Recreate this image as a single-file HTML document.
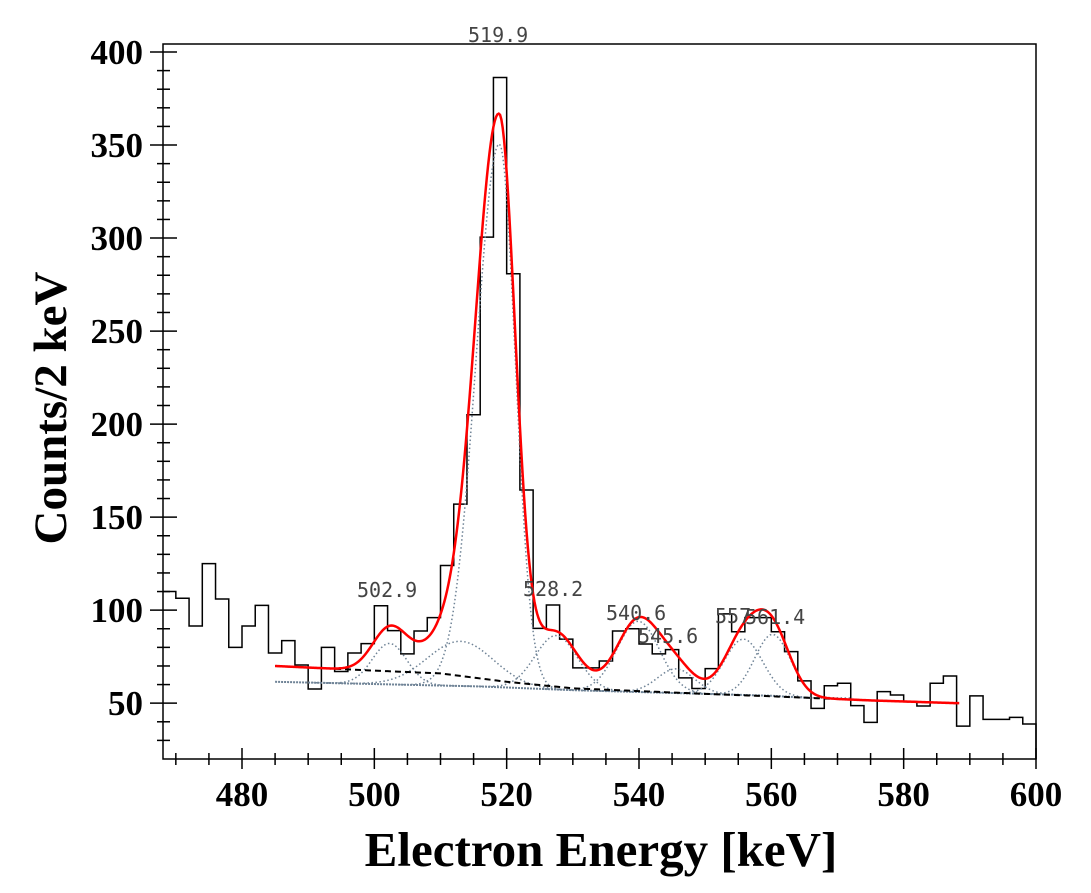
<!DOCTYPE html>
<html><head><meta charset="utf-8"><style>
html,body{margin:0;padding:0;background:#fff;}
svg{display:block;}
.tick{font-family:"Liberation Serif",serif;font-weight:bold;font-size:35px;fill:#000;}
.pl{font-family:"DejaVu Sans Mono","Liberation Mono",monospace;font-size:20px;fill:#444;}
</style></head><body>
<svg id="chart" width="1091" height="893" viewBox="0 0 1091 893" xmlns="http://www.w3.org/2000/svg">
<rect x="0" y="0" width="1091" height="893" fill="#fff"/>
<g id="plot"></g>
</svg>
<script>
const binStart = 468, binWidth = 2;
const counts = [110,106.4,91.5,125,106,80,91.5,102.6,77,83.6,70.5,57.6,80,67,77,82,102.4,89,76.5,88.8,96,124,157,205,300.5,386.3,280.8,164.6,90.2,102.8,84.4,69,69,72.7,88.8,90,81.8,76.5,78.8,63.6,57.9,68.6,98,88.4,96,96,88.4,77.7,62,47.2,59.4,60.7,48.7,39.7,56.2,54.4,50.8,48.5,60.7,64.6,37.7,53.9,41.3,41.3,42.4,38.8];
const xTicks = [480,500,520,540,560,580,600];
const yTicks = [50,100,150,200,250,300,350,400];
const bgX = [485,500,510,520,530,540,550,560,575,588];
const bgY = [70,67.5,66,61.5,58,56.5,55,53.7,51.5,50];
const blueBgX = [485,516,530,545,560,566];
const blueBgY = [61.5,59,57,55.5,54,52.8];
const peakCenters = [502.3,518.9,513,527.5,539.9,545.6,555.8,560.2];
const peakAmps = [22,292,24,29,38,13,30,33];
const peakSigL = [2.6,3.5,5,3.2,3.2,2.8,2.9,2.7];
const peakSigR = [2.6,2.4,5,3.2,3.2,2.8,2.9,2.7];
const peakLabels = ["502.9","519.9","528.2","540.6","545.6","557","561.4"];
const peakLabelX = [357,468,523,606,638,715,745];
const peakLabelY = [597,42,596,620,643,623,624];
const fitRange = [485,588.5];

const X0=468.06, X1=600, Y0=20, Y1=404.3, L=163, R=1036, T=44, B=759;
const sx = v => L + (v-X0)/(X1-X0)*(R-L);
const sy = v => B - (v-Y0)/(Y1-Y0)*(B-T);
const NS='http://www.w3.org/2000/svg';
const g = document.getElementById('plot');
function mk(tag, attrs){const e=document.createElementNS(NS,tag);for(const k in attrs)e.setAttribute(k,attrs[k]);g.appendChild(e);return e;}
function interp(xs,ys,x){if(x<=xs[0])return ys[0];for(let i=1;i<xs.length;i++){if(x<=xs[i]){const t=(x-xs[i-1])/(xs[i]-xs[i-1]);return ys[i-1]+t*(ys[i]-ys[i-1]);}}return ys[ys.length-1];}
function gauss(i,x){const s=x<peakCenters[i]?peakSigL[i]:peakSigR[i];const d=x-peakCenters[i];return peakAmps[i]*Math.exp(-d*d/(2*s*s));}

const fr = mk('rect',{x:L,y:T,width:R-L,height:B-T,fill:'none',stroke:'#000','stroke-width':1.5});



for(let v=470; v<=600; v+=5){
  const major = v%20===0;
  const t = mk('line',{x1:sx(v),x2:sx(v),y1:major?748:753,y2:major?769:765,stroke:'#000','stroke-width':1.5});
  
  
}
xTicks.forEach(v=>{
  const t=mk('text',{x:sx(v),y:806,'text-anchor':'middle',class:'tick'});
  t.textContent=v;
  
  
});
for(let v=30; v<=400; v+=10){
  const major = v%50===0;
  const t = mk('line',{x1:major?150:157,x2:major?177:170,y1:sy(v),y2:sy(v),stroke:'#000','stroke-width':1.5});
  
  
}
yTicks.forEach(v=>{
  const t=mk('text',{x:143,y:sy(v)+12,'text-anchor':'end',class:'tick'});
  t.textContent=v;
  
  
});

let d='';
counts.forEach((c,i)=>{
  const a=binStart+i*binWidth, b=a+binWidth;
  const xa=Math.max(sx(a),L);
  d += (i===0?'M':'L')+xa+','+sy(c)+' L'+sx(b)+','+sy(c)+' ';
});
d+='L'+R+','+B;
const h=mk('path',{d:d,fill:'none',stroke:'#000','stroke-width':1.5});



let bd='';
for(let x=blueBgX[0]; x<=blueBgX[blueBgX.length-1]; x+=0.5){bd+=(bd?'L':'M')+sx(x)+','+sy(interp(blueBgX,blueBgY,x))+' ';}
const bb=mk('path',{d:bd,fill:'none',stroke:'#6f8396','stroke-width':2,'stroke-dasharray':'2,1'});



peakCenters.forEach((c,i)=>{
  let pd='';
  const lo=Math.max(fitRange[0],c-4.5*peakSigL[i]), hi=Math.min(fitRange[1],c+4.5*peakSigR[i]);
  for(let x=lo;x<=hi;x+=0.25){pd+=(pd?'L':'M')+sx(x)+','+sy(interp(blueBgX,blueBgY,x)+gauss(i,x))+' ';}
  const p=mk('path',{d:pd,fill:'none',stroke:'#6f8396','stroke-width':1.5,'stroke-dasharray':'1.5,2.5'});
  
  
});

let kd='';
for(let x=bgX[0]; x<=bgX[bgX.length-1]; x+=0.5){kd+=(kd?'L':'M')+sx(x)+','+sy(interp(bgX,bgY,x))+' ';}
const kb=mk('path',{d:kd,fill:'none',stroke:'#000','stroke-width':2,'stroke-dasharray':'6,4'});



let rd='';
for(let x=fitRange[0]; x<=fitRange[1]; x+=0.2){
  let y=interp(bgX,bgY,x);
  for(let i=0;i<peakCenters.length;i++) y+=gauss(i,x);
  rd+=(rd?'L':'M')+sx(x).toFixed(2)+','+sy(y).toFixed(2)+' ';
}
const rf=mk('path',{d:rd,fill:'none',stroke:'#ff0000','stroke-width':2.5});



peakLabels.forEach((s,i)=>{
  const t=mk('text',{x:peakLabelX[i],y:peakLabelY[i],class:'pl'});
  t.textContent=s;
  
  
});

const xt=mk('text',{x:601,y:866,'text-anchor':'middle','font-family':'Liberation Serif, serif','font-weight':'bold','font-size':'49'});
xt.textContent='Electron Energy [keV]';


const yt=mk('text',{x:0,y:0,'text-anchor':'middle','font-family':'Liberation Serif, serif','font-weight':'bold','font-size':'47',transform:'translate(66,408) rotate(-90)'});
yt.textContent='Counts/2 keV';


</script>
</body></html>
